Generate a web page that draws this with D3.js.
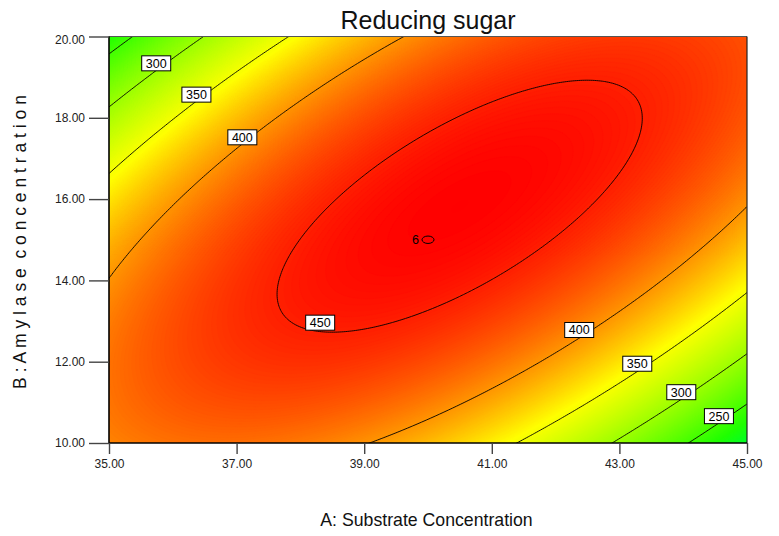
<!DOCTYPE html>
<html>
<head>
<meta charset="utf-8">
<script src="https://cdn.jsdelivr.net/npm/d3@7"></script>
<style>
  html, body { margin: 0; padding: 0; background: #fff; }
  svg { display: block; font-family: Arial, "Liberation Sans", sans-serif; }
</style>
</head>
<body>
<svg id="chart" width="779" height="536"></svg>
<script>
// Response surface contour plot: Reducing sugar vs A (substrate) and B (amylase)

const width = 779;
const height = 536;

// factor ranges (actual units)
const factorA = [35, 45];
const factorB = [10, 20];
const xTicks = [35, 37, 39, 41, 43, 45];
const yTicks = [10, 12, 14, 16, 18, 20];

// quadratic model in coded units
const modelTerms = ["Intercept", "A", "B", "AB", "A^2", "B^2"];
const modelCoefs = [462.1, -1.1, 11.9, 99.9, -77.5, -66.1];

// contour levels and where their labels sit
const contourLevels = [250, 300, 350, 400, 450];
const labelLevels = [300, 350, 400, 450, 400, 350, 300, 250];
const labelA = [35.74, 36.37, 37.09, 38.31, 42.37, 43.28, 43.97, 44.56];
const labelB = [19.34, 18.57, 17.52, 12.96, 12.78, 11.95, 11.25, 10.66];

// design points (center point with replicates)
const designA = [40];
const designB = [15];
const designReps = [6];

// colour ramp (response -> colour)
const colorValues = [206, 232, 300, 355, 400, 463];
const colorStops = ["#00ff2b", "#22ff00", "#9dff00", "#ffff00", "#ff9500", "#ff0000"];

const plot = {left: 109, right: 747, top: 36.5, bottom: 443};
const W = plot.right - plot.left;
const H = plot.bottom - plot.top;

const x = d3.scaleLinear().domain(factorA).range([plot.left, plot.right]);
const y = d3.scaleLinear().domain(factorB).range([plot.bottom, plot.top]);
const color = d3.scaleLinear().domain(colorValues).range(colorStops).clamp(true);

const svg = d3.select("#chart");

// model prediction at actual factor values
function predict(a, b) {
    const A = (a - (factorA[0] + factorA[1]) / 2) / ((factorA[1] - factorA[0]) / 2);
    const B = (b - (factorB[0] + factorB[1]) / 2) / ((factorB[1] - factorB[0]) / 2);
    const t = [1, A, B, A * B, A * A, B * B];
    return d3.sum(t, (v, i) => v * modelCoefs[i]);
}

// sample grid, padded so polygon edges fall outside the clip
const nx = 320, ny = 204, pad = 2;
const gx = nx + 2 * pad, gy = ny + 2 * pad;
const values = new Array(gx * gy);
for (let j = 0; j < gy; j++) {
    for (let i = 0; i < gx; i++) {
        const px = plot.left + (i - pad + 0.5) * W / nx;
        const py = plot.top + (j - pad + 0.5) * H / ny;
        values[j * gx + i] = predict(x.invert(px), y.invert(py));
    }
}

const gridPath = d3.geoPath(d3.geoTransform({
    point(px, py) {
        this.stream.point(plot.left + (px - pad) * W / nx, plot.top + (py - pad) * H / ny);
    }
}));

svg.append("defs").append("clipPath").attr("id", "plot-clip")
    .append("rect")
    .attr("x", plot.left).attr("y", plot.top)
    .attr("width", W).attr("height", H);

const area = svg.append("g").attr("clip-path", "url(#plot-clip)");

// smooth colour fill: stacked bands, each covering everything above its threshold
const extent = d3.extent(values);
area.append("rect")
    .attr("x", plot.left).attr("y", plot.top)
    .attr("width", W).attr("height", H)
    .attr("fill", color(extent[0]));

const bandThresholds = d3.range(Math.floor(extent[0]), Math.ceil(extent[1]), 1);
const bands = d3.contours().size([gx, gy]).thresholds(bandThresholds)(values);
area.append("g")
    .selectAll("path")
    .data(bands)
    .enter()
    .append("path")
    .attr("d", gridPath)
    .attr("fill", d => color(d.value + 0.5))
    .attr("stroke", d => color(d.value + 0.5))
    .attr("stroke-width", 0.3);

// contour lines
const lines = d3.contours().size([gx, gy]).thresholds(contourLevels)(values);
area.append("g")
    .selectAll("path")
    .data(lines)
    .enter()
    .append("path")
    .attr("d", gridPath)
    .attr("fill", "none")
    .attr("stroke", "#000")
    .attr("stroke-width", 0.9);

// contour labels
const labels = svg.append("g");
labelLevels.forEach((lv, i) => {
    const g = labels.append("g")
        .attr("transform", `translate(${x(labelA[i])},${y(labelB[i])})`);
    g.append("rect")
        .attr("x", -14.5).attr("y", -7.5)
        .attr("width", 29).attr("height", 15)
        .attr("fill", "#fff")
        .attr("stroke", "#000")
        .attr("stroke-width", 1);
    g.append("text")
        .attr("text-anchor", "middle")
        .attr("dy", "0.36em")
        .attr("font-size", 12.5)
        .attr("fill", "#000")
        .text(lv);
});

// design point marker
designA.forEach((a, i) => {
    svg.append("ellipse")
        .attr("cx", x(a)).attr("cy", y(designB[i]))
        .attr("rx", 6).attr("ry", 3.7)
        .attr("fill", "none")
        .attr("stroke", "#000")
        .attr("stroke-width", 1);
    svg.append("text")
        .attr("x", x(a) - 9).attr("y", y(designB[i]) + 3.8)
        .attr("text-anchor", "end")
        .attr("font-size", 12.5)
        .attr("fill", "#000")
        .text(designReps[i]);
});

// frame
svg.append("line")
    .attr("x1", plot.left).attr("x2", plot.right)
    .attr("y1", plot.top).attr("y2", plot.top)
    .attr("stroke", "#555").attr("stroke-width", 1.2);
svg.append("line")
    .attr("x1", plot.right).attr("x2", plot.right)
    .attr("y1", plot.top).attr("y2", plot.bottom)
    .attr("stroke", "#222").attr("stroke-width", 1.2);

// axes
const xAxis = svg.append("g")
    .attr("transform", `translate(0,${plot.bottom})`)
    .call(d3.axisBottom(x).tickValues(xTicks).tickFormat(d3.format(".2f"))
        .tickSize(11).tickPadding(5));
const yAxis = svg.append("g")
    .attr("transform", `translate(${plot.left},0)`)
    .call(d3.axisLeft(y).tickValues(yTicks).tickFormat(d3.format(".2f"))
        .tickSize(20).tickPadding(4));

[xAxis, yAxis].forEach(ax => {
    ax.select(".domain").attr("stroke", "#000").attr("stroke-width", 1.6);
    ax.selectAll(".tick line").attr("stroke", "#444").attr("stroke-width", 1.4);
    ax.selectAll(".tick text")
        .attr("font-size", 12)
        .attr("font-family", "Arial, 'Liberation Sans', sans-serif")
        .attr("fill", "#222");
});
xAxis.select(".domain").attr("d", `M${plot.left},0H${plot.right}`);
yAxis.select(".domain").attr("d", `M0,${plot.bottom}V${plot.top}`);
yAxis.selectAll(".tick").filter(d => d === 20).select("text").attr("dy", "0.62em");

// titles
svg.append("text")
    .attr("x", (plot.left + plot.right) / 2)
    .attr("y", 28.5)
    .attr("text-anchor", "middle")
    .attr("font-size", 25)
    .attr("fill", "#111")
    .text("Reducing sugar");

svg.append("text")
    .attr("x", 426.5)
    .attr("y", 526)
    .attr("text-anchor", "middle")
    .attr("font-size", 17.7)
    .attr("fill", "#111")
    .text("A: Substrate Concentration");

svg.append("text")
    .attr("transform", "translate(26,242) rotate(-90)")
    .attr("text-anchor", "middle")
    .attr("font-size", 17.5)
    .attr("fill", "#111")
    .attr("xml:space", "preserve")
    .style("white-space", "pre")
    .text("B : A m y l a s e  c o n c e n t r a t i o n");
</script>
</body>
</html>
